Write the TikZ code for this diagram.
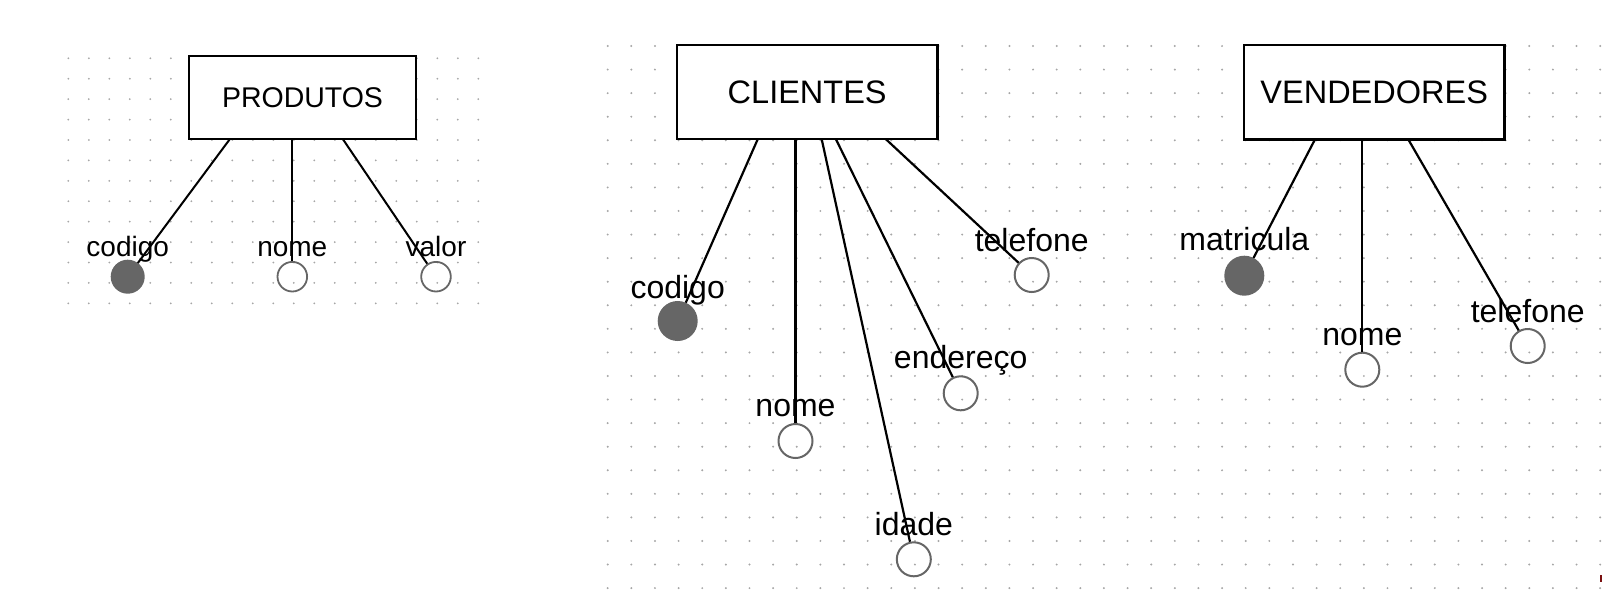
\documentclass[tikz,border=0pt]{standalone}
\usepackage{fontspec}
\setmainfont{Liberation Sans}
\definecolor{dotc}{HTML}{A6A6A6}
\definecolor{attrc}{HTML}{666666}
\definecolor{markc}{HTML}{7A1010}
\begin{document}
\begin{tikzpicture}[x=1pt,y=-1pt,
  bigbox/.style={rectangle,draw=black,line width=2.2pt,fill=white,inner sep=0pt,outer sep=0pt,
    minimum width=260.5pt,minimum height=94.5pt,font=\fontsize{32.5}{39}\selectfont},
  smallbox/.style={rectangle,draw=black,line width=2pt,fill=white,inner sep=0pt,outer sep=0pt,
    minimum width=227pt,minimum height=83pt,font=\fontsize{28.5}{34}\selectfont},
  attr/.style={circle,draw=attrc,line width=2pt,inner sep=0pt,minimum size=34pt},
  keyattr/.style={attr,fill=attrc,minimum size=38pt},
  sattr/.style={circle,draw=attrc,line width=1.8pt,inner sep=0pt,minimum size=29.6pt},
  skeyattr/.style={sattr,fill=attrc,minimum size=32.2pt},
  lbl/.style={anchor=base,inner sep=0pt,font=\fontsize{32}{38}\selectfont},
  slbl/.style={anchor=base,inner sep=0pt,font=\fontsize{28}{34}\selectfont},
  conn/.style={draw=black,line width=2.2pt},
  sconn/.style={draw=black,line width=2pt}]
\useasboundingbox (0,0) rectangle (1602,589);
% dotted grids
\foreach \i in {0,...,20}{\foreach \j in {0,...,12}{\fill[dotc] ({68.3+\i*20.5},{58.3+\j*20.42}) circle[radius=1pt];}}
\foreach \i in {0,...,42}{\foreach \j in {0,...,23}{\fill[dotc] ({607.7+\i*23.63},{46+\j*23.57}) circle[radius=1.1pt];}}
% entities
\node[smallbox] (prod) at (302.5,97.4) {PRODUTOS};
\node[bigbox] (cli) at (807.2,92) {CLIENTES};
\node[bigbox] (ven) at (1374.2,92.2) {VENDEDORES};
% PRODUTOS attributes
\node[skeyattr] (pcod) at (127.7,276.7) {};
\node[sattr] (pnom) at (292.3,276.7) {};
\node[sattr] (pval) at (436,276.7) {};
\node[slbl] (lpcod) at (127.7,256) {codigo};
\node[slbl] (lpnom) at (292.3,256) {nome};
\node[slbl] (lpval) at (436,256) {valor};
% CLIENTES attributes
\node[keyattr] (ccod) at (677.7,321) {};
\node[attr] (ctel) at (1031.7,275) {};
\node[attr] (cend) at (960.7,393.3) {};
\node[attr] (cnom) at (795.5,441) {};
\node[attr] (cida) at (913.8,559.3) {};
\node[lbl] (lccod) at (677.7,298.3) {codigo};
\node[lbl] (lctel) at (1031.7,251.7) {telefone};
\node[lbl] (lcend) at (960.7,368.3) {endereço};
\node[lbl] (lcnom) at (795.5,416) {nome};
\node[lbl] (lcida) at (913.8,535) {idade};
% VENDEDORES attributes
\node[keyattr] (vmat) at (1244.3,275.7) {};
\node[attr] (vnom) at (1362.3,369.7) {};
\node[attr] (vtel) at (1527.7,346) {};
\node[lbl] (lvmat) at (1244.3,250.7) {matricula};
\node[lbl] (lvnom) at (1362.3,345) {nome};
\node[lbl] (lvtel) at (1527.7,322.3) {telefone};
% connectors
\draw[sconn] ([xshift=41pt]prod.south west) -- (pcod);
\draw[sconn] ([xshift=103.3pt]prod.south west) -- (pnom);
\draw[sconn] ([xshift=153.7pt]prod.south west) -- (pval);
\draw[conn] ([xshift=80.75pt]cli.south west) -- (ccod);
\draw[conn] ([xshift=118.55pt]cli.south west) -- (cnom);
\draw[conn] ([xshift=144.75pt]cli.south west) -- (cida);
\draw[conn] ([xshift=159pt]cli.south west) -- (cend);
\draw[conn] ([xshift=209pt]cli.south west) -- (ctel);
\draw[conn] ([xshift=71pt]ven.south west) -- (vmat);
\draw[conn] ([xshift=118.35pt]ven.south west) -- (vnom);
\draw[conn] ([xshift=164.35pt]ven.south west) -- (vtel);
% small mark at the lower right edge
\fill[markc] (1600,575) rectangle (1602,582);
\end{tikzpicture}
\end{document}
